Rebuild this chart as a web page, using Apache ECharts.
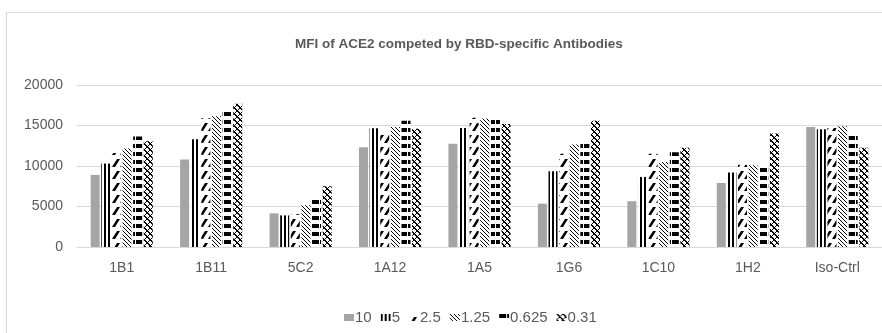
<!DOCTYPE html>
<html>
<head>
<meta charset="utf-8">
<script src="https://cdn.jsdelivr.net/npm/echarts@6/dist/echarts.min.js"></script>
<style>html,body{margin:0;padding:0;background:#fff;}#c{width:882px;height:333px;}</style>
</head>
<body>
<div id="c"></div>
<script>
const titleText = 'MFI of ACE2 competed by RBD-specific Antibodies';
const categories = ['1B1','1B11','5C2','1A12','1A5','1G6','1C10','1H2','Iso-Ctrl'];
const seriesNames = ['10','5','2.5','1.25','0.625','0.31'];
const s10    = [8900, 10800, 4150, 12300, 12750, 5350, 5650, 7900, 14800];
const s5     = [10300, 13300, 3900, 14650, 14700, 9350, 8650, 9200, 14550];
const s2_5   = [11600, 15900, 4050, 14250, 15950, 11500, 11500, 10150, 14700];
const s1_25  = [12150, 16150, 5150, 14800, 15850, 12650, 10500, 10100, 14900];
const s0_625 = [13650, 17050, 5900, 15600, 15700, 13050, 11700, 10100, 14150];
const s0_31  = [13050, 17700, 7500, 14600, 15200, 15600, 12250, 14000, 12250];
const yTicks = [0, 5000, 10000, 15000, 20000];

function makePattern(w, h, draw) {
  const c = document.createElement('canvas');
  c.width = w; c.height = h;
  const g = c.getContext('2d');
  g.fillStyle = '#fff'; g.fillRect(0, 0, w, h);
  g.fillStyle = '#000';
  draw(g, w, h);
  return { image: c, repeat: 'repeat' };
}
const patVertical = makePattern(4, 4, g => g.fillRect(0, 0, 2, 4));
const patUpDiag = makePattern(8, 12, g => {
  g.beginPath(); g.moveTo(0, 11); g.lineTo(3, 11); g.lineTo(8, 3); g.lineTo(5, 3); g.closePath(); g.fill();
});
const patDownDiag = makePattern(4, 4, g => { for (let i = 0; i < 4; i++) g.fillRect(i, i, 1, 1); });
const patHoriz = makePattern(8, 8, g => g.fillRect(0, 0, 7, 4));
const patDiamond = makePattern(6, 6, g => {
  for (let i = 0; i < 6; i++) { g.fillRect(i, i, 1, 1); g.fillRect(5 - i, i, 1, 1); g.fillRect((i + 1) % 6, i, 1, 1); }
});

const dataSets = [s10, s5, s2_5, s1_25, s0_625, s0_31];
const fills = ['#a5a5a5', patVertical, patUpDiag, patDownDiag, patHoriz, patDiamond];

const chart = echarts.init(document.getElementById('c'), null, { renderer: 'canvas' });
chart.setOption({
  animation: false,
  backgroundColor: '#fff',
  title: {
    text: titleText, left: 290, top: 32,
    textStyle: { fontFamily: 'Liberation Sans', fontSize: 13.5, fontWeight: 'bold', color: '#595959' }
  },
  legend: {
    data: seriesNames, left: 339, top: 305, itemWidth: 10, itemHeight: 7, itemGap: 9,
    icon: 'rect',
    textStyle: { fontFamily: 'Liberation Sans', fontSize: 15, color: '#595959', padding: [0, 0, 0, -4] }
  },
  grid: { left: 77, right: 0, top: 85, bottom: 86, containLabel: false },
  xAxis: {
    type: 'category', data: categories,
    axisLine: { lineStyle: { color: '#d9d9d9', width: 1 } },
    axisTick: { show: false },
    axisLabel: { fontFamily: 'Liberation Sans', fontSize: 14, color: '#595959', margin: 14 }
  },
  yAxis: {
    type: 'value', min: yTicks[0], max: yTicks[yTicks.length - 1], interval: 5000,
    axisLine: { show: false }, axisTick: { show: false },
    splitLine: { lineStyle: { color: '#d9d9d9', width: 1 } },
    axisLabel: { fontFamily: 'Liberation Sans', fontSize: 14, color: '#595959', margin: 14,
      formatter: v => String(v) }
  },
  graphic: [
    { type: 'line', shape: { x1: 6.5, y1: 12.5, x2: 882, y2: 12.5 }, style: { stroke: '#d9d9d9', lineWidth: 1 } },
    { type: 'line', shape: { x1: 6.5, y1: 12.5, x2: 6.5, y2: 333 }, style: { stroke: '#d9d9d9', lineWidth: 1 } }
  ],
  series: seriesNames.map((n, i) => ({
    name: n, type: 'bar', data: dataSets[i], barWidth: 9, barGap: '18%',
    itemStyle: { color: fills[i] }
  }))
});
</script>
</body>
</html>
